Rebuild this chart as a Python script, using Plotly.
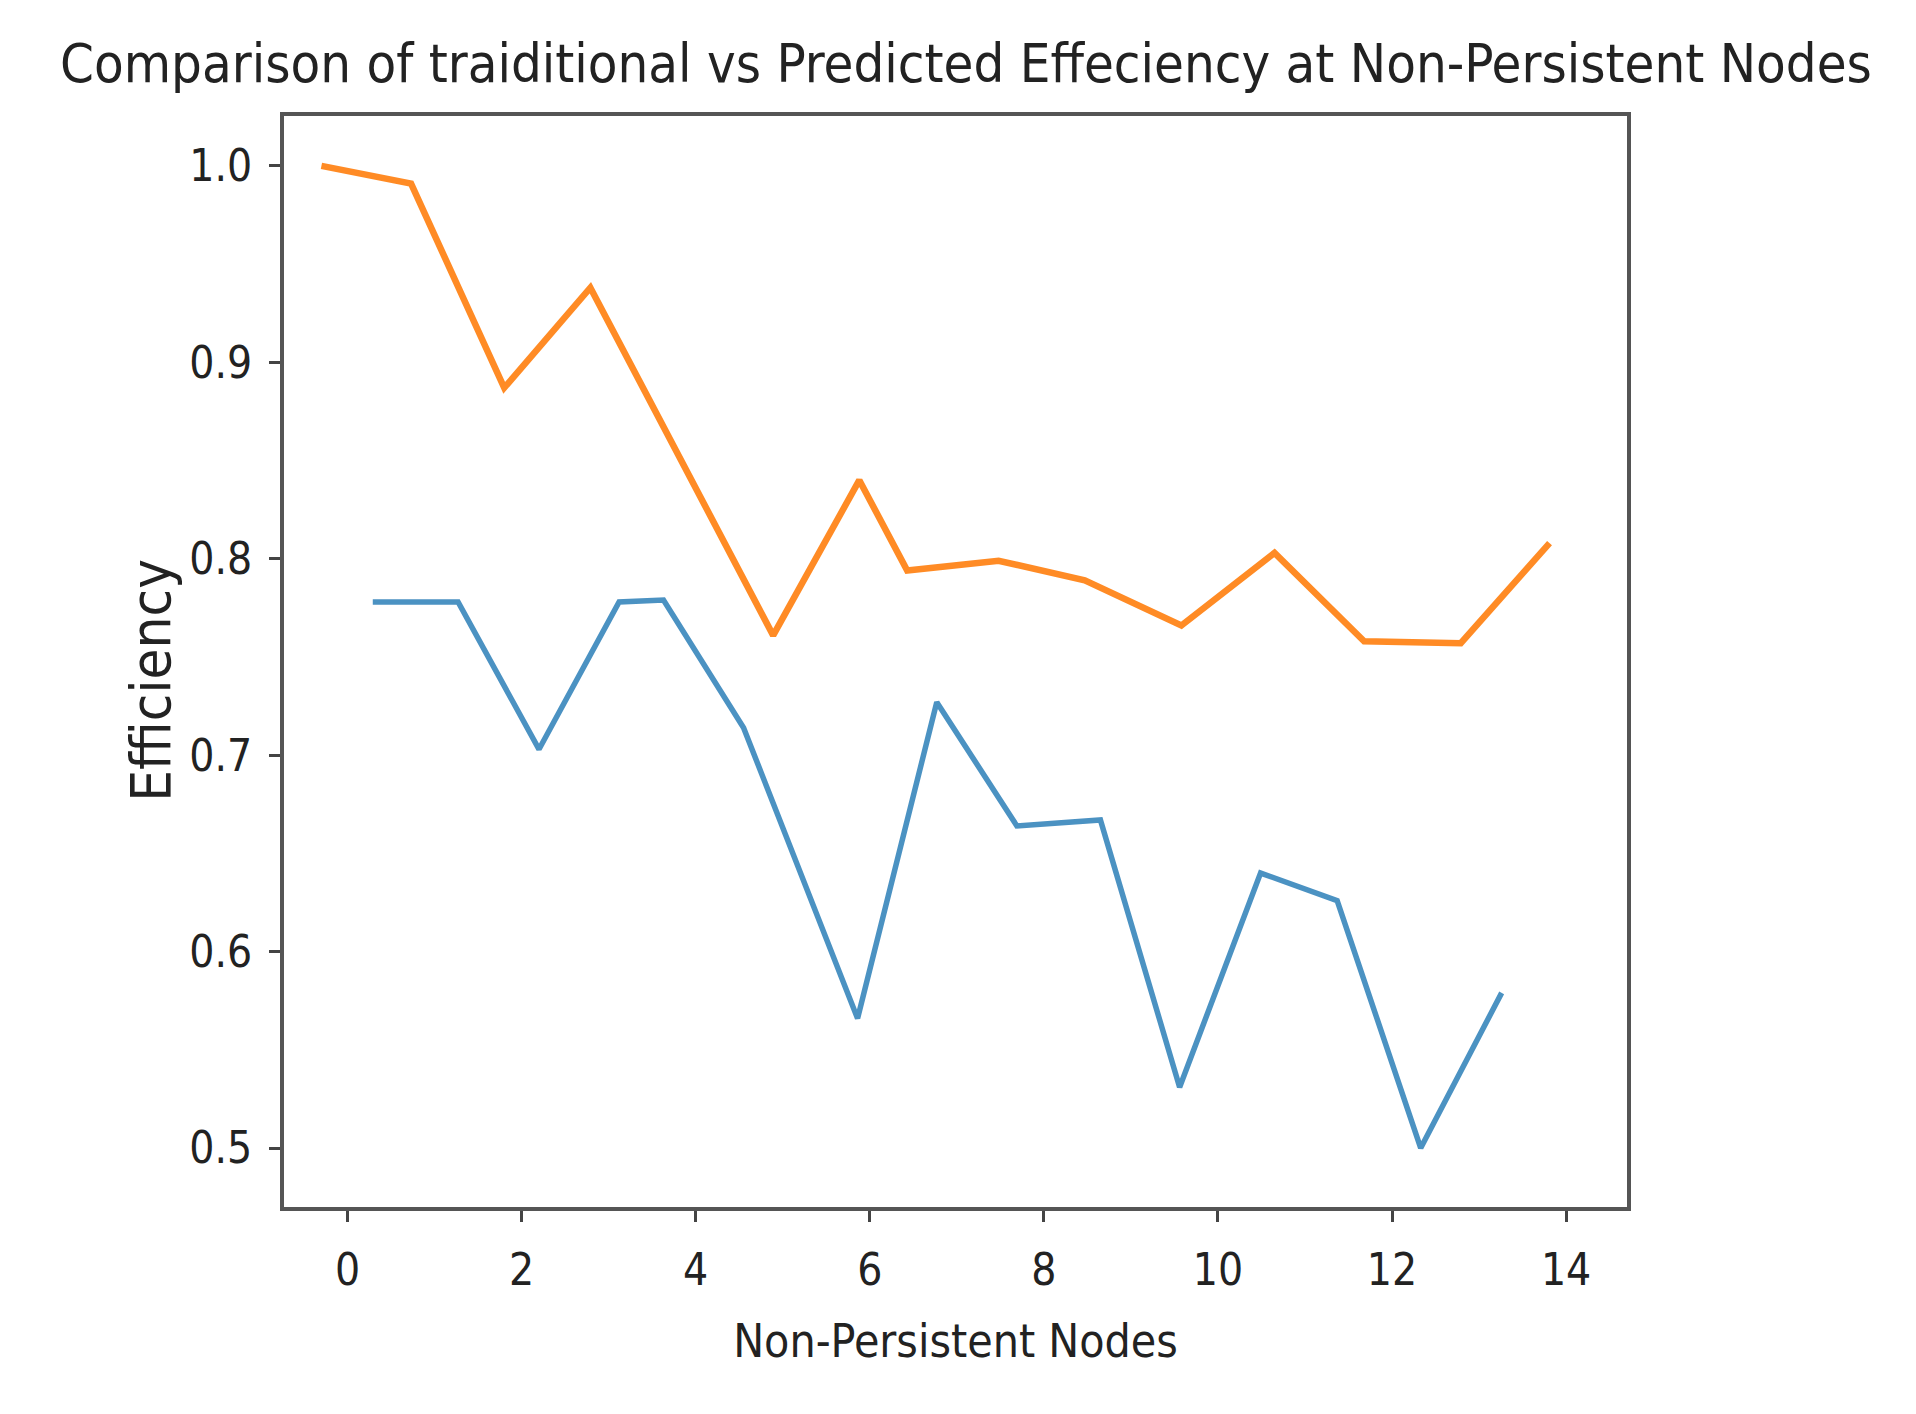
import plotly.graph_objects as go

# Data
pred_x = [-0.30, 0.73, 1.80, 2.79, 4.89, 5.88, 6.43, 7.48, 8.47, 9.58, 10.65, 11.68, 12.79, 13.81]
pred_eff = [1.000, 0.991, 0.887, 0.938, 0.761, 0.840, 0.794, 0.799, 0.789, 0.766, 0.803, 0.758, 0.757, 0.808]

trad_x = [0.29, 1.27, 2.20, 3.12, 3.63, 4.55, 5.86, 6.77, 7.69, 8.65, 9.56, 10.49, 11.37, 12.33, 13.26]
trad_eff = [0.778, 0.778, 0.703, 0.778, 0.779, 0.714, 0.566, 0.727, 0.664, 0.667, 0.531, 0.640, 0.626, 0.500, 0.579]

x_ticks = [0, 2, 4, 6, 8, 10, 12, 14]
y_ticks = [0.5, 0.6, 0.7, 0.8, 0.9, 1.0]

title_text = "Comparison of traiditional vs Predicted Effeciency at Non-Persistent Nodes"
x_title = "Non-Persistent Nodes"
y_title = "Efficiency"

FONT = "DejaVu Sans Condensed, DejaVu Sans, sans-serif"

fig = go.Figure()
fig.add_trace(go.Scatter(x=trad_x, y=trad_eff, mode="lines",
                         line=dict(color="#1f77b4", width=5.5), opacity=0.8, name="traditional"))
fig.add_trace(go.Scatter(x=pred_x, y=pred_eff, mode="lines",
                         line=dict(color="#ff7f0e", width=6.5), opacity=0.9, name="predicted"))

axis_common = dict(showline=True, linecolor="#555555", linewidth=4, mirror=True,
                   ticks="outside", ticklen=11, tickwidth=3, tickcolor="#444444",
                   showgrid=False, zeroline=False,
                   tickfont=dict(family=FONT, size=44, color="#222222"))

fig.update_layout(
    width=1916, height=1414,
    margin=dict(l=276, r=297, t=108, b=215),
    paper_bgcolor="white", plot_bgcolor="white",
    showlegend=False,
    title=dict(text=title_text, x=0.5, xref="container", xanchor="center",
               y=1 - 55 / 1414, yref="container", yanchor="middle",
               font=dict(family=FONT, size=54, color="#222222")),
    xaxis=dict(range=[-0.73, 14.70], tickvals=x_ticks, ticktext=[str(v) for v in x_ticks],
               title=dict(text=x_title, standoff=32, font=dict(family=FONT, size=46, color="#222222")),
               ticklabelstandoff=10, **axis_common),
    yaxis=dict(range=[0.470, 1.0254], tickvals=y_ticks, ticktext=[f"{v:.1f}" for v in y_ticks],
               ticklabelstandoff=8, **axis_common),
    annotations=[dict(text=y_title, xref="paper", yref="paper", x=-0.100, y=0.483,
                      xanchor="center", yanchor="middle", textangle=-90, showarrow=False,
                      font=dict(family=FONT, size=56, color="#222222"))],
)

fig.write_html("out.html")
